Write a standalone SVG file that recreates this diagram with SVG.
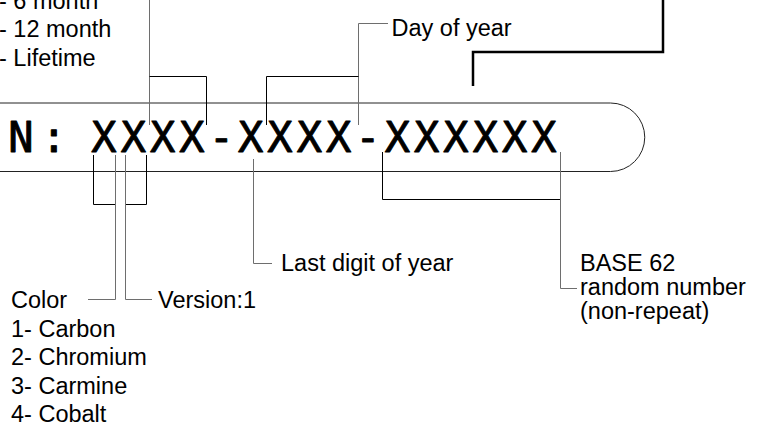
<svg xmlns="http://www.w3.org/2000/svg" width="784" height="434" viewBox="0 0 784 434">
<style>
.lbl{font-family:"Liberation Sans",Arial,sans-serif;font-size:23.5px;fill:#000}
.code{font-family:"DejaVu Sans Mono",monospace;font-size:42px;fill:#000;stroke:#000;stroke-width:0.9;stroke-linejoin:round;text-anchor:middle}
.br{fill:none;stroke:#000;stroke-width:1}
.ld{fill:none;stroke:#6e6e6e;stroke-width:1}
.thick{fill:none;stroke:#000;stroke-width:2.5}
</style>
<rect width="784" height="434" fill="#fff"/>
<g id="code-box">
<path d="M-5 103 H610.5 A34.25 34.25 0 0 1 610.5 171.5 H-5" fill="none" stroke="#222" stroke-width="1"/>
<text class="code" x="20.8 54" y="152">N:</text>
<text class="code" x="104 133.33 162.67 192 221.33 250.67 280 309.33 338.67 368 397.33 426.67 456 485.33 514.67 544" y="152">XXXX-XXXX-XXXXXX</text>
</g>
<g id="duration">
<text class="lbl" x="-1" y="8.5">- 6 month</text>
<text class="lbl" x="-1" y="37">- 12 month</text>
<text class="lbl" x="-1" y="66">- Lifetime</text>
</g>
<g id="day-of-year"><text class="lbl" x="391.5" y="35.5">Day of year</text></g>
<g id="last-digit"><text class="lbl" x="281" y="271">Last digit of year</text></g>
<g id="random">
<text class="lbl" x="580" y="271">BASE 62</text>
<text class="lbl" x="580" y="295">random number</text>
<text class="lbl" x="580" y="319">(non-repeat)</text>
</g>
<g id="color">
<text class="lbl" x="11" y="308">Color</text>
<text class="lbl" x="11" y="336.5">1- Carbon</text>
<text class="lbl" x="11" y="365">2- Chromium</text>
<text class="lbl" x="11" y="393.5">3- Carmine</text>
<text class="lbl" x="11" y="422">4- Cobalt</text>
</g>
<g id="version"><text class="lbl" x="158" y="308">Version:1</text></g>
<g id="connectors">
<path class="ld" d="M149.5 0 V125"/>
<path class="br" d="M149.5 76.5 H206.5 V125"/>
<path class="ld" d="M388 23.5 H358.5 V125"/>
<path class="br" d="M266.5 125 V76.5 H358.5"/>
<path class="thick" d="M473 86 V52 H663 V0"/>
<path class="br" d="M93.5 155 V204.5 H115.5"/>
<path class="ld" d="M115.5 155 V299.5 H88"/>
<path class="br" d="M146.5 155 V204.5 H125.5"/>
<path class="ld" d="M125.5 155 V299.5 H152"/>
<path class="ld" d="M253.5 159 V263.5 H272"/>
<path class="br" d="M382.5 152 V199.5 H560.5"/>
<path class="ld" d="M560.5 152 V288.5 H577"/>
</g>
</svg>
